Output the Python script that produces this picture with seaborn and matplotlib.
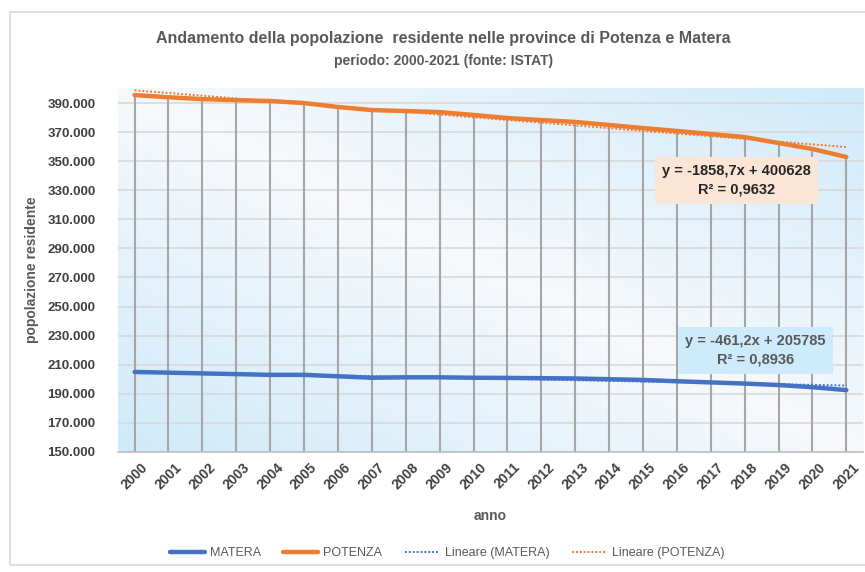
import numpy as np
import pandas as pd
import seaborn as sns
import matplotlib.pyplot as plt
from matplotlib.colors import LinearSegmentedColormap
from matplotlib.patches import Rectangle

# Data
anni = list(range(2000, 2022))
potenza = [395500, 394000, 392700, 392000, 391400, 390000, 387300, 385200,
           384500, 383800, 381800, 379700, 378300, 377000, 374900, 372800,
           370800, 368700, 366600, 362500, 358400, 352900]
matera = [205000, 204500, 204000, 203500, 203000, 203000, 202000, 201000,
          201300, 201300, 201000, 200900, 200700, 200500, 200000, 199500,
          198600, 197800, 197000, 196000, 194500, 192500]

# trend equations shown on the chart (x = 1..22)
trend_potenza = (-1858.7, 400628, 0.9632)
trend_matera = (-461.2, 205785, 0.8936)

sns.set_theme(style="white")
plt.rcParams['font.family'] = ['Liberation Sans', 'DejaVu Sans']

blue = "#4472c4"
orange = "#ed7d31"
grey_txt = "#595959"

fig = plt.figure(figsize=(8.65, 5.72), dpi=100)
ax = fig.add_axes([0.136, 0.21, 0.862, 0.636])

# outer chart border
fig.patches.append(Rectangle((10 / 865, 7 / 572), 1.0, 553 / 572, transform=fig.transFigure,
                             fill=False, edgecolor="#d9d9d9", linewidth=1.2))

# gradient background of the plot area
u, v = np.meshgrid(np.linspace(0, 1, 200), np.linspace(1, 0, 200))
t = np.abs((u + v) / 2 - 0.5) * 2
cmap = LinearSegmentedColormap.from_list("bg", ["#f7f9fc", "#cfeafa"])
ax.imshow(t, cmap=cmap, extent=[0, 1, 0, 1], transform=ax.transAxes,
          aspect="auto", zorder=0, vmin=0, vmax=1)

df = pd.DataFrame({"anno": anni, "MATERA": matera, "POTENZA": potenza})

# horizontal grid
yticks = list(range(150000, 390001, 20000))
for yv in yticks[1:]:
    ax.axhline(yv, color="#d9d9d9", linewidth=1.2, zorder=1)

# drop lines from the top series to the axis
ax.vlines(df["anno"], 150000, df["POTENZA"], color="#a6a6a6", linewidth=1.5, zorder=1)

sns.lineplot(data=df, x="anno", y="MATERA", ax=ax, color=blue, linewidth=3.2,
             label="MATERA", zorder=3)
sns.lineplot(data=df, x="anno", y="POTENZA", ax=ax, color=orange, linewidth=3.2,
             label="POTENZA", zorder=3)

xi = np.arange(1, len(anni) + 1)
ax.plot(anni, trend_matera[0] * xi + trend_matera[1], linestyle=(0, (1, 1)),
        color=blue, linewidth=1.4, label="Lineare (MATERA)", zorder=4)
ax.plot(anni, trend_potenza[0] * xi + trend_potenza[1], linestyle=(0, (1, 1)),
        color=orange, linewidth=1.4, label="Lineare (POTENZA)", zorder=4)

ax.set_xlim(1999.5, 2021.5)
ax.set_ylim(150000, 400300)
ax.set_xticks(anni)
ax.set_xticklabels([str(a) for a in anni], rotation=45, fontsize=10,
                   fontweight="bold", color="#404040")
ax.set_yticks(yticks)
ax.set_yticklabels([f"{y:,}".replace(",", ".") for y in yticks],
                   fontsize=9.5, fontweight="bold", color="#404040")
ax.tick_params(axis="y", length=0, pad=16)
ax.tick_params(axis="x", length=0, pad=6)
for s in ax.spines.values():
    s.set_visible(False)
ax.spines["bottom"].set_visible(True)
ax.spines["bottom"].set_color("#bfbfbf")

ax.set_xlabel("anno", fontsize=10, fontweight="bold", color=grey_txt, labelpad=12)
ax.set_ylabel("popolazione residente", fontsize=10, fontweight="bold",
              color=grey_txt, labelpad=6)

fig.text(0.513, 0.925, "Andamento della popolazione  residente nelle province di Potenza e Matera",
         ha="center", fontsize=11.5, fontweight="bold", color=grey_txt)
fig.text(0.513, 0.887, "periodo: 2000-2021 (fonte: ISTAT)", ha="center",
         fontsize=10, fontweight="bold", color=grey_txt)

# trend equation boxes
def fmt(n):
    return f"{n:.1f}".replace(".", ",")

ax.text(0.83, 0.747, f"y = {fmt(trend_potenza[0])}x + {trend_potenza[1]}\nR² = {str(trend_potenza[2]).replace('.', ',')}",
        transform=ax.transAxes, ha="center", va="center", fontsize=10.5,
        fontweight="bold", color="#262626", linespacing=1.4, zorder=5,
        bbox=dict(boxstyle="square,pad=0.5", facecolor="#fbe5d6", edgecolor="none"))
ax.text(0.855, 0.28, f"y = {fmt(trend_matera[0])}x + {trend_matera[1]}\nR² = {str(trend_matera[2]).replace('.', ',')}",
        transform=ax.transAxes, ha="center", va="center", fontsize=10.5,
        fontweight="bold", color=grey_txt, linespacing=1.4, zorder=5,
        bbox=dict(boxstyle="square,pad=0.5", facecolor="#cdebfa", edgecolor="none"))

handles, labels = ax.get_legend_handles_labels()
if ax.legend_:
    ax.legend_.remove()
fig.legend(handles, labels, loc="center", bbox_to_anchor=(0.517, 0.033), ncol=4,
           frameon=False, fontsize=9, labelcolor=grey_txt, handlelength=2.8,
           handletextpad=0.4, columnspacing=1.8)

fig.savefig("out.png", dpi=100)
